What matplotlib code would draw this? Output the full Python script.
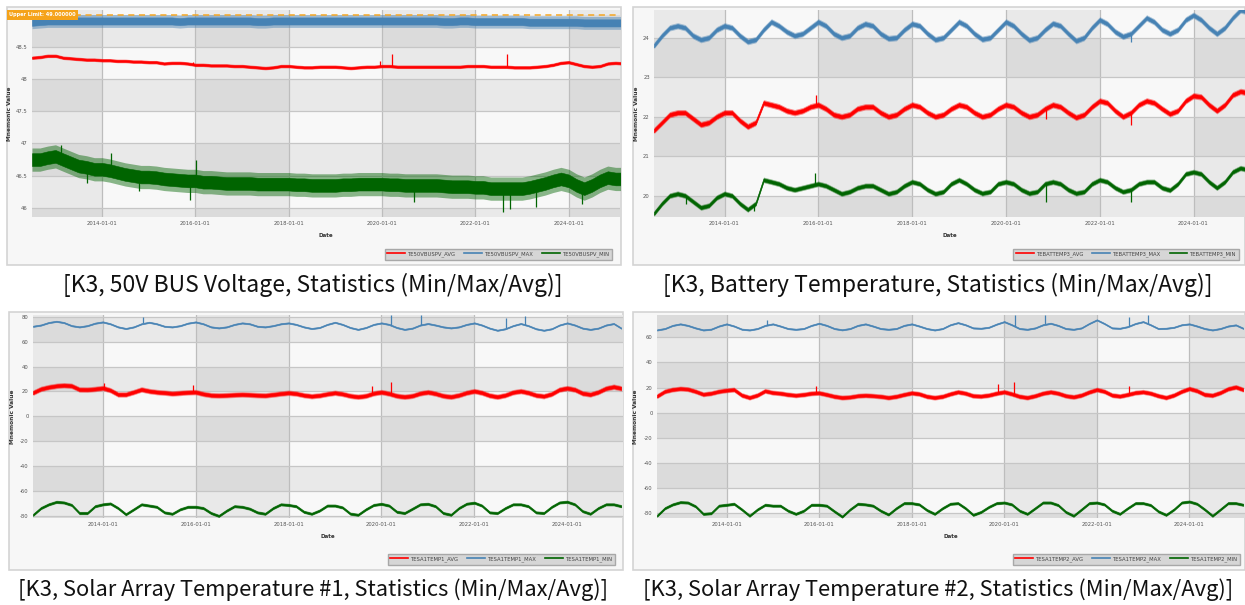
import numpy as np
import pandas as pd
import matplotlib
matplotlib.use('Agg')
import matplotlib.pyplot as plt
from matplotlib.lines import Line2D
from matplotlib.patches import Rectangle

W, H = 1245, 605

# sample dates: every two months, Jul 2012 .. Mar 2025
dates = pd.date_range('2012-07-01', periods=77, freq='2MS')

# ---- 50V BUS voltage (rows: 2012 Jul/Sep/Nov, then Jan..Nov per year, 2025 Jan/Mar)
bus_avg = [48.33, 48.34, 48.36,
           48.36, 48.33, 48.32, 48.31, 48.30, 48.30,
           48.29, 48.29, 48.28, 48.28, 48.27, 48.27,
           48.26, 48.26, 48.24, 48.25, 48.25, 48.24,
           48.22, 48.22, 48.21, 48.21, 48.21, 48.20,
           48.20, 48.19, 48.18, 48.17, 48.18, 48.20,
           48.20, 48.19, 48.18, 48.18, 48.19, 48.19,
           48.19, 48.18, 48.17, 48.18, 48.19, 48.19,
           48.20, 48.20, 48.19, 48.19, 48.19, 48.19,
           48.19, 48.19, 48.19, 48.19, 48.19, 48.20,
           48.20, 48.20, 48.19, 48.19, 48.19, 48.18,
           48.18, 48.18, 48.19, 48.20, 48.22, 48.25,
           48.26, 48.23, 48.20, 48.19, 48.20, 48.24,
           48.25, 48.24]
bus_max = [48.88, 48.89, 48.90,
           48.90, 48.90, 48.90, 48.90, 48.90, 48.90,
           48.90, 48.90, 48.90, 48.90, 48.90, 48.90,
           48.90, 48.90, 48.90, 48.90, 48.89, 48.90,
           48.90, 48.90, 48.90, 48.90, 48.90, 48.90,
           48.90, 48.90, 48.89, 48.89, 48.90, 48.90,
           48.90, 48.90, 48.90, 48.90, 48.90, 48.90,
           48.90, 48.90, 48.90, 48.90, 48.90, 48.90,
           48.90, 48.90, 48.90, 48.90, 48.90, 48.90,
           48.90, 48.90, 48.89, 48.89, 48.90, 48.90,
           48.89, 48.89, 48.89, 48.89, 48.89, 48.89,
           48.89, 48.88, 48.88, 48.88, 48.88, 48.88,
           48.88, 48.88, 48.87, 48.87, 48.87, 48.87,
           48.87, 48.87]
bus_min = [46.75, 46.75, 46.78,
           46.80, 46.75, 46.70, 46.65, 46.63, 46.60,
           46.60, 46.58, 46.55, 46.52, 46.50, 46.48,
           46.48, 46.47, 46.45, 46.44, 46.43, 46.42,
           46.42, 46.40, 46.40, 46.39, 46.38, 46.38,
           46.38, 46.38, 46.37, 46.37, 46.37, 46.37,
           46.37, 46.36, 46.36, 46.35, 46.35, 46.35,
           46.35, 46.36, 46.36, 46.37, 46.37, 46.37,
           46.37, 46.36, 46.36, 46.35, 46.35, 46.35,
           46.35, 46.35, 46.34, 46.33, 46.33, 46.33,
           46.32, 46.32, 46.30, 46.30, 46.30, 46.30,
           46.30, 46.32, 46.35, 46.38, 46.42, 46.45,
           46.42, 46.35, 46.30, 46.35, 46.42, 46.47,
           46.45, 46.45]
bus_spread = [0.028, 0.1, 0.18]
bus_spikes = [('2015-12-10', 48.26, 0), ('2020-03-20', 48.38, 0), ('2019-12-15', 48.28, 0),
              ('2022-09-01', 48.39, 0), ('2015-11-20', 46.12, 2), ('2016-01-05', 46.74, 2),
              ('2022-08-05', 45.93, 2), ('2022-10-01', 45.98, 2), ('2023-04-20', 46.02, 2),
              ('2024-04-10', 46.06, 2), ('2014-03-10', 46.86, 2), ('2013-02-10', 46.97, 2),
              ('2013-09-01', 46.38, 2), ('2014-10-15', 46.27, 2), ('2020-09-10', 46.1, 2)]

# ---- Battery temperature
bat_avg = [21.65, 21.85, 22.05,
           22.10, 22.10, 21.95, 21.80, 21.85, 22.00,
           22.10, 22.10, 21.90, 21.75, 21.85, 22.35,
           22.30, 22.25, 22.15, 22.10, 22.15, 22.25,
           22.30, 22.20, 22.05, 22.00, 22.05, 22.20,
           22.25, 22.25, 22.10, 22.00, 22.05, 22.20,
           22.30, 22.25, 22.10, 22.00, 22.05, 22.20,
           22.30, 22.25, 22.10, 22.00, 22.05, 22.20,
           22.30, 22.25, 22.10, 22.00, 22.05, 22.20,
           22.30, 22.25, 22.10, 21.98, 22.05, 22.25,
           22.40, 22.35, 22.15, 22.00, 22.10, 22.30,
           22.40, 22.35, 22.20, 22.07, 22.15, 22.40,
           22.53, 22.50, 22.30, 22.15, 22.30, 22.55,
           22.64, 22.60]
bat_max = [23.80, 24.05, 24.25,
           24.30, 24.25, 24.05, 23.95, 24.00, 24.20,
           24.30, 24.25, 24.05, 23.90, 23.95, 24.20,
           24.40, 24.30, 24.15, 24.05, 24.10, 24.25,
           24.40, 24.30, 24.10, 24.00, 24.05, 24.25,
           24.35, 24.30, 24.10, 23.98, 24.00, 24.20,
           24.35, 24.30, 24.10, 23.95, 24.00, 24.20,
           24.40, 24.30, 24.10, 23.96, 24.00, 24.20,
           24.40, 24.30, 24.10, 23.94, 24.00, 24.20,
           24.36, 24.30, 24.10, 23.92, 24.00, 24.25,
           24.45, 24.35, 24.15, 24.03, 24.10, 24.30,
           24.50, 24.40, 24.20, 24.10, 24.20, 24.45,
           24.57, 24.45, 24.25, 24.10, 24.25, 24.50,
           24.70, 24.65]
bat_min = [19.55, 19.80, 20.00,
           20.05, 20.00, 19.85, 19.70, 19.75, 19.95,
           20.05, 20.00, 19.80, 19.65, 19.80, 20.40,
           20.35, 20.30, 20.20, 20.15, 20.20, 20.25,
           20.30, 20.25, 20.15, 20.05, 20.10, 20.20,
           20.25, 20.25, 20.15, 20.05, 20.10, 20.25,
           20.35, 20.30, 20.15, 20.05, 20.10, 20.30,
           20.40, 20.30, 20.15, 20.06, 20.10, 20.30,
           20.35, 20.30, 20.15, 20.06, 20.10, 20.30,
           20.35, 20.30, 20.15, 20.06, 20.10, 20.30,
           20.40, 20.35, 20.20, 20.10, 20.15, 20.30,
           20.35, 20.35, 20.20, 20.14, 20.30, 20.55,
           20.60, 20.55, 20.35, 20.20, 20.35, 20.60,
           20.70, 20.65]
bat_spread = [0.08, 0.08, 0.07]
bat_spikes = [('2022-09-05', 21.80, 0), ('2020-11-10', 21.95, 0), ('2015-12-15', 22.55, 0),
              ('2020-11-10', 19.85, 2), ('2022-09-05', 19.85, 2), ('2013-03-10', 19.80, 2),
              ('2013-07-01', 19.75, 2), ('2014-08-20', 19.60, 2), ('2015-12-10', 20.58, 2),
              ('2022-09-05', 23.90, 1)]

# ---- Solar array temperature #1
sa1_avg = [19.0, 22.0, 23.5,
           24.5, 25.0, 24.5, 21.6, 21.5, 22.0,
           22.8, 21.0, 17.6, 17.6, 19.5, 21.6,
           20.3, 19.5, 19.0, 18.4, 18.8, 19.3,
           19.5, 18.0, 17.0, 16.8, 17.0, 17.3,
           17.6, 17.3, 17.0, 16.8, 17.5, 18.3,
           18.9, 18.3, 17.0, 16.2, 16.8, 18.0,
           18.9, 18.0, 16.5, 15.7, 16.5, 18.5,
           19.5, 18.3, 16.5, 15.7, 16.5, 18.5,
           19.5, 18.3, 16.5, 15.7, 17.0, 19.0,
           20.3, 19.0, 16.8, 15.7, 17.0, 19.3,
           20.3, 19.0, 17.0, 16.2, 18.0, 21.5,
           22.7, 21.5, 18.5, 17.6, 19.5, 22.5,
           23.8, 22.5]
sa1_max = [72.5, 73.5, 75.5,
           76.5, 75.5, 73.0, 72.0, 73.0, 75.0,
           76.0, 74.5, 72.0, 70.7, 72.0, 74.5,
           75.7, 74.5, 72.5, 72.0, 73.0, 75.0,
           76.0, 74.5, 72.0, 71.2, 72.0, 74.0,
           75.2, 74.5, 72.5, 72.0, 73.0, 74.5,
           75.2, 74.0, 72.0, 70.7, 71.5, 74.0,
           75.7, 74.0, 71.5, 70.0, 71.5, 74.0,
           75.2, 74.0, 71.5, 70.0, 71.0, 73.5,
           74.7, 73.5, 72.0, 71.2, 72.0, 74.0,
           75.2, 73.5, 71.0, 69.3, 70.5, 73.0,
           74.7, 73.0, 70.5, 69.3, 70.5, 73.5,
           75.2, 73.5, 71.0, 70.0, 71.0, 73.5,
           74.7, 71.0]
sa1_min = [-79.5, -74.0, -71.0,
           -69.0, -69.5, -71.5, -78.0, -78.0, -72.5,
           -71.0, -70.3, -74.0, -79.0, -75.0, -71.0,
           -72.0, -73.0, -77.5, -78.6, -75.0, -73.0,
           -73.0, -74.0, -78.0, -80.3, -76.0, -72.5,
           -73.0, -74.5, -77.5, -78.6, -74.0, -71.0,
           -71.5, -72.5, -77.0, -78.6, -76.0, -72.0,
           -72.0, -73.5, -78.5, -79.4, -75.0, -71.5,
           -70.6, -72.0, -77.0, -78.0, -74.5, -71.0,
           -70.6, -72.5, -78.0, -79.4, -74.0, -70.5,
           -69.7, -72.0, -77.5, -78.0, -74.0, -71.0,
           -71.0, -72.5, -77.5, -78.0, -73.0, -69.5,
           -68.9, -71.0, -76.5, -78.6, -74.0, -71.0,
           -71.0, -72.5]
sa1_spread = [2.2, 0.8, 1.3]
sa1_spikes = [('2014-01-10', 27.0, 0), ('2015-12-10', 25.5, 0), ('2019-10-20', 24.3, 0),
              ('2020-03-15', 27.6, 0), ('2014-11-15', 80.0, 1), ('2020-03-20', 81.9, 1),
              ('2020-11-10', 82.0, 1), ('2022-09-10', 79.2, 1), ('2023-02-05', 81.0, 1)]

# ---- Solar array temperature #2
sa2_avg = [13.2, 17.0, 18.5,
           19.2, 18.8, 17.0, 14.7, 15.5, 17.0,
           17.9, 18.4, 14.0, 12.1, 14.0, 17.4,
           16.0, 15.5, 14.5, 13.9, 14.5, 15.5,
           15.8, 14.5, 13.0, 12.1, 12.5, 13.5,
           13.9, 13.5, 13.0, 12.1, 13.0, 14.5,
           15.8, 15.0, 13.0, 12.1, 13.0, 15.0,
           16.6, 15.5, 13.5, 13.2, 14.0, 15.5,
           16.6, 15.0, 13.0, 12.1, 13.5, 15.5,
           16.6, 15.5, 13.5, 12.6, 14.0, 16.5,
           18.4, 17.0, 14.0, 13.2, 14.5, 16.0,
           16.6, 15.5, 13.5, 12.1, 14.0, 17.0,
           19.2, 17.5, 14.5, 13.9, 16.0, 19.0,
           20.5, 18.4]
sa2_max = [65.9, 67.0, 69.5,
           70.7, 69.5, 67.5, 65.9, 66.5, 69.0,
           70.7, 69.0, 66.5, 65.9, 67.0, 69.5,
           70.7, 69.0, 67.0, 66.4, 67.0, 69.5,
           71.2, 69.5, 67.0, 66.0, 67.0, 69.5,
           70.7, 69.0, 67.0, 66.4, 67.0, 69.5,
           70.7, 69.0, 67.0, 65.9, 67.0, 70.0,
           71.7, 70.0, 67.5, 67.2, 68.0, 70.5,
           72.5, 70.0, 67.0, 66.4, 67.5, 70.0,
           71.2, 69.5, 67.0, 66.4, 67.5, 71.0,
           73.9, 71.0, 67.5, 67.2, 68.5, 71.0,
           72.5, 70.0, 67.0, 67.2, 68.0, 70.0,
           70.7, 69.0, 67.0, 65.9, 67.0, 69.0,
           69.9, 67.2]
sa2_min = [-82.0, -76.0, -73.0,
           -71.2, -71.5, -74.5, -80.5, -80.0, -74.0,
           -73.3, -72.5, -77.0, -82.0, -77.0, -73.3,
           -74.0, -74.0, -78.0, -80.5, -78.0, -73.3,
           -73.3, -74.0, -78.5, -82.7, -77.0, -72.5,
           -73.0, -74.0, -78.0, -81.0, -76.0, -72.0,
           -72.0, -73.0, -77.5, -80.5, -76.0, -72.5,
           -72.0, -76.0, -81.3, -79.0, -75.0, -72.0,
           -71.5, -73.0, -78.0, -80.5, -76.0, -71.5,
           -71.5, -73.5, -79.0, -82.0, -77.0, -72.0,
           -71.5, -73.0, -78.0, -80.5, -76.0, -72.0,
           -72.0, -73.5, -78.5, -81.3, -77.0, -71.5,
           -70.7, -72.5, -77.0, -82.0, -77.0, -72.0,
           -72.0, -73.3]
sa2_spread = [2.0, 0.8, 1.3]
sa2_spikes = [('2015-12-10', 21.0, 0), ('2019-11-15', 22.6, 0), ('2020-03-15', 24.5, 0),
              ('2022-09-10', 21.0, 0), ('2014-11-15', 73.9, 1), ('2020-03-25', 78.0, 1),
              ('2020-11-15', 78.0, 1), ('2022-09-10', 76.5, 1), ('2023-02-05', 78.0, 1)]

colors = ['#ff0000', '#4682b4', '#006400']
suffix = ['_AVG', '_MAX', '_MIN']
cap_font = ['Noto Sans CJK KR', 'DejaVu Sans']

fig = plt.figure(figsize=(W / 100, H / 100), dpi=100)
fig.patch.set_facecolor('white')


def frac(x0, y0, x1, y1):
    return [x0 / W, 1 - y1 / H, (x1 - x0) / W, (y1 - y0) / H]


def draw_panel(box, area, ylim, yticks, xend, name, series, spreads, spikes,
               caption, cap_xy, cap_size, leg_xy, ylab_x):
    fig.patches.append(Rectangle((box[0] / W, 1 - box[3] / H), (box[2] - box[0]) / W,
                                 (box[3] - box[1]) / H, transform=fig.transFigure,
                                 facecolor='#f7f7f7', edgecolor='#d4d4d4', lw=1.2, zorder=-5))
    ax = fig.add_axes(frac(*area))
    ax.set_facecolor('#f8f8f8')
    for s in ax.spines.values():
        s.set_visible(False)

    # alternating shaded bands
    step = yticks[1] - yticks[0]
    y = np.floor(ylim[0] / step) * step
    while y < ylim[1]:
        if int(round(y / step)) % 2 == 1:
            ax.axhspan(y, y + step, color='black', alpha=0.06, lw=0, zorder=0)
        y += step
    for yr in range(2012, 2026, 4):
        ax.axvspan(pd.Timestamp(f'{yr}-01-01'), pd.Timestamp(f'{yr + 2}-01-01'),
                   color='black', alpha=0.06, lw=0, zorder=0)

    # noisy series: light outer envelope + solid core
    xnum = dates.values.astype('datetime64[D]').astype(float)
    for vals, sp, c in zip(series, spreads, colors):
        v = np.array(vals)
        ax.fill_between(dates, v - sp, v + sp, color=c, alpha=0.45, lw=0, zorder=3)
        ax.fill_between(dates, v - sp * 0.55, v + sp * 0.55, color=c, lw=0.4, zorder=3)
    for d, val, i in spikes:
        dn = np.datetime64(d, 'D').astype(float)
        base = np.interp(dn, xnum, series[i])
        ax.vlines(pd.Timestamp(d), base, val, color=colors[i], lw=0.9, zorder=3)

    ax.set_ylim(*ylim)
    ax.set_xlim(pd.Timestamp('2012-07-01'), pd.Timestamp(xend))
    ax.set_yticks(yticks)
    ax.set_yticklabels([f'{t:g}' for t in yticks])
    xt = [pd.Timestamp(f'{yr}-01-01') for yr in range(2014, 2026, 2)]
    ax.set_xticks(xt)
    ax.set_xticklabels([t.strftime('%Y-%m-%d') for t in xt])
    ax.tick_params(length=0, labelsize=3.8, labelcolor='#555555', pad=3)
    ax.grid(True, axis='y', color='#c6c6c6', lw=0.9)
    ax.grid(True, axis='x', color='#bdbdbd', lw=0.9)
    ax.set_axisbelow(True)
    for g in ax.get_xgridlines() + ax.get_ygridlines():
        g.set_zorder(1)

    ax.set_xlabel('Date', fontsize=4, fontweight='bold', color='#333333', labelpad=5)
    ax.set_ylabel('Mnemonic Value', fontsize=4.2, fontweight='bold', color='#333333')
    ax.yaxis.set_label_coords(-(area[0] - ylab_x) / (area[2] - area[0]), 0.5)

    handles = [Line2D([], [], color=c, lw=1.2) for c in colors]
    fig.legend(handles, [name + s for s in suffix], loc='upper right',
               bbox_to_anchor=(leg_xy[0] / W, 1 - leg_xy[1] / H), ncol=3,
               fontsize=3.8, frameon=True, fancybox=False, facecolor='#d6d6d6',
               edgecolor='#a8a8a8', framealpha=1, handlelength=3.3,
               handletextpad=0.6, columnspacing=1.6, borderpad=0.5,
               labelcolor='#444444')
    fig.text(cap_xy[0] / W, 1 - cap_xy[1] / H, caption, ha='center', va='center',
             fontsize=cap_size, family=cap_font, color='#111111')
    return ax


ax1 = draw_panel((7, 7, 621, 265), (32, 10, 620, 217), (45.86, 49.07),
                 [46, 46.5, 47, 47.5, 48, 48.5], '2025-02-05', 'TE50VBUSPV',
                 [bus_avg, bus_max, bus_min], bus_spread, bus_spikes,
                 '[K3, 50V BUS Voltage, Statistics (Min/Max/Avg)]', (313, 285), 16.5,
                 (615, 246), 12)
ax1.axhline(49.0, color='#f5a623', ls=(0, (4, 3)), lw=1.1, zorder=4)
fig.text(9 / W, 1 - 14.5 / H, 'Upper Limit: 49.000000', ha='left', va='center',
         fontsize=3.6, fontweight='bold', color='white', zorder=10,
         bbox=dict(facecolor='#f5a31a', edgecolor='none', pad=1.8))

draw_panel((633, 7, 1245, 265), (654, 10, 1245, 217), (19.46, 24.70),
           [20, 21, 22, 23, 24], '2025-02-05', 'TEBATTEMP3',
           [bat_avg, bat_max, bat_min], bat_spread, bat_spikes,
           '[K3, Battery Temperature, Statistics (Min/Max/Avg)]', (938, 285), 16.5,
           (1242, 246), 639)

draw_panel((9, 312, 623, 570), (33, 315, 623, 518), (-82, 81.6),
           list(range(-80, 81, 20)), '2025-03-15', 'TESA1TEMP1',
           [sa1_avg, sa1_max, sa1_min], sa1_spread, sa1_spikes,
           '[K3, Solar Array Temperature #1, Statistics (Min/Max/Avg)]', (313, 590), 15.8,
           (618, 551), 15)

draw_panel((633, 312, 1245, 570), (657, 315, 1245, 518), (-83.8, 77.8),
           list(range(-80, 61, 20)), '2025-03-15', 'TESA1TEMP2',
           [sa2_avg, sa2_max, sa2_min], sa2_spread, sa2_spikes,
           '[K3, Solar Array Temperature #2, Statistics (Min/Max/Avg)]', (938, 590), 15.8,
           (1243, 551), 638)

fig.savefig('out.png', dpi=100)
